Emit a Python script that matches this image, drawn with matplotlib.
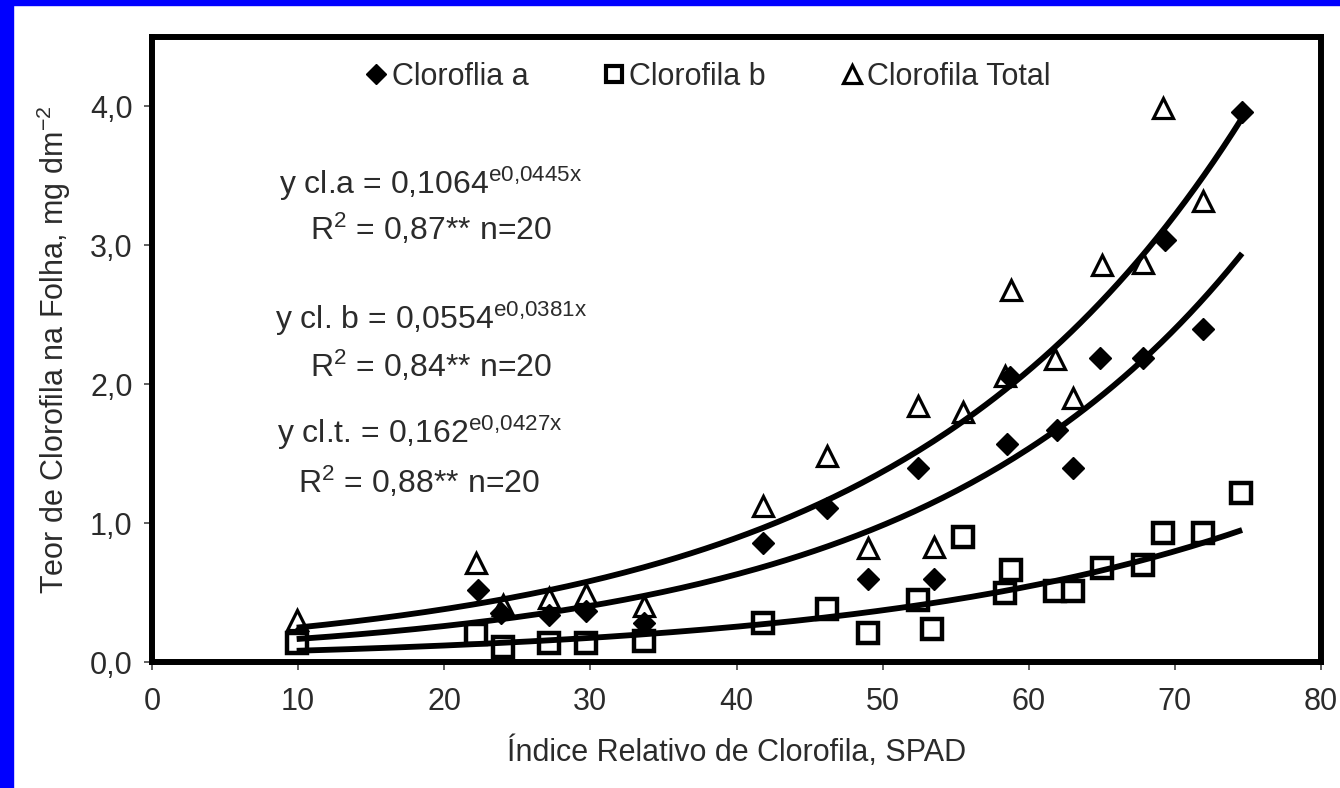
import numpy as np
import matplotlib
matplotlib.use('Agg')
import matplotlib.pyplot as plt
from matplotlib.ticker import FuncFormatter, MultipleLocator
from matplotlib.patches import Rectangle

plt.rcParams['font.family'] = ['Liberation Sans', 'DejaVu Sans']
plt.rcParams['mathtext.default'] = 'regular'

# leituras do grafico (SPAD x teor, mg dm-2)
spad_a = [9.9, 22.3, 23.9, 27.2, 29.7, 33.7, 41.8, 46.2, 49.0, 52.4,
          53.5, 58.5, 58.7, 61.9, 63.0, 64.9, 67.8, 69.3, 71.9, 74.6]
clor_a = [0.17, 0.52, 0.35, 0.34, 0.37, 0.28, 0.86, 1.11, 0.60, 1.40,
          0.60, 1.57, 2.05, 1.67, 1.40, 2.19, 2.19, 3.04, 2.40, 3.96]

spad_b = [9.9, 22.2, 24.0, 27.2, 29.7, 33.7, 41.8, 46.2, 49.0, 52.4,
          53.4, 55.5, 58.4, 58.8, 61.8, 63.0, 65.0, 67.8, 69.2, 71.9, 74.5]
clor_b = [0.14, 0.20, 0.11, 0.14, 0.14, 0.15, 0.28, 0.38, 0.21, 0.45,
          0.24, 0.90, 0.50, 0.66, 0.51, 0.51, 0.68, 0.70, 0.93, 0.93, 1.22]

spad_t = [9.9, 22.2, 24.0, 27.2, 29.7, 33.7, 41.8, 46.2, 49.0, 52.4,
          53.5, 55.5, 58.4, 58.8, 61.8, 63.0, 65.0, 67.8, 69.2, 71.9]
clor_t = [0.30, 0.71, 0.41, 0.46, 0.49, 0.40, 1.12, 1.48, 0.82, 1.84,
          0.83, 1.80, 2.06, 2.68, 2.18, 1.90, 2.86, 2.87, 3.99, 3.32]

# ajustes exponenciais y = a*exp(b*x)
fit_a = (0.1064, 0.0445)
fit_b = (0.0554, 0.0381)
fit_t = (0.162, 0.0427)

legend_labels = ['Cloroflia a', 'Clorofila b', 'Clorofila Total']
eq_lines = [
    ('y cl.a = 0,1064$^{e0{,}0445x}$', 'R$^2$ = 0,87** n=20'),
    ('y cl. b = 0,0554$^{e0{,}0381x}$', 'R$^2$ = 0,84** n=20'),
    ('y cl.t. = 0,162$^{e0{,}0427x}$', 'R$^2$ = 0,88** n=20'),
]

txt = '#2b2b2b'

fig = plt.figure(figsize=(13.4, 7.88), dpi=100)
fig.patch.set_facecolor('white')
fig.patches.append(Rectangle((0, 0), 13 / 1340, 1, transform=fig.transFigure,
                             color='#0000ff', zorder=0))
fig.patches.append(Rectangle((0, 1 - 5 / 788), 1, 5 / 788, transform=fig.transFigure,
                             color='#0000ff', zorder=0))

ax = fig.add_axes([152 / 1340, 1 - 662 / 788, (1321 - 152) / 1340, (662 - 37) / 788])

ax.plot(spad_a, clor_a, linestyle='none', marker='D', ms=11.5,
        mfc='black', mec='black', zorder=3)
ax.plot(spad_b, clor_b, linestyle='none', marker='s', ms=14.5,
        mfc='white', mec='black', mew=3.2, zorder=3)
ax.plot(spad_t, clor_t, linestyle='none', marker='^', ms=15,
        mfc='none', mec='black', mew=2.3, zorder=3)

# linhas de tendencia sobre toda a faixa de SPAD medida
x_all = spad_a + spad_b + spad_t
xx = np.linspace(min(x_all), max(x_all), 200)
for a, b in [fit_a, fit_b, fit_t]:
    ax.plot(xx, a * np.exp(b * xx), color='black', lw=4.2, zorder=4,
            solid_capstyle='butt')

ax.set_xlim(0, 80)
ax.set_ylim(0, 4.5)
ax.xaxis.set_major_locator(MultipleLocator(10))
ax.yaxis.set_major_locator(MultipleLocator(1))
ax.yaxis.set_major_formatter(FuncFormatter(lambda v, p: f'{v:.1f}'.replace('.', ',')))

for s in ax.spines.values():
    s.set_linewidth(4.3)
    s.set_color('black')
ax.tick_params(direction='out', length=6, width=1.2, color='#444444',
               labelsize=22, labelcolor=txt, pad=8)
ax.tick_params(axis='x', pad=12)

ax.set_xlabel('Índice Relativo de Clorofila, SPAD', fontsize=22, color=txt, labelpad=14)
ax.set_ylabel('Teor de Clorofila na Folha, mg dm$^{-2}$', fontsize=22, color=txt, labelpad=12)

eq_x = [(8.69, 10.81), (8.42, 10.81), (8.56, 9.99)]
eq_y = [(3.37, 3.04), (2.40, 2.05), (1.58, 1.22)]
for (l1, l2), (x1, x2), (y1, y2) in zip(eq_lines, eq_x, eq_y):
    ax.text(x1, y1, l1, fontsize=23, color=txt, ha='left', va='baseline')
    ax.text(x2, y2, l2, fontsize=23, color=txt, ha='left', va='baseline')

la, = ax.plot([], [], linestyle='none', marker='D', ms=10, mfc='black', mec='black')
lb, = ax.plot([], [], linestyle='none', marker='s', ms=12, mfc='white', mec='black', mew=3.0)
lt, = ax.plot([], [], linestyle='none', marker='^', ms=13, mfc='none', mec='black', mew=2.3)
leg = ax.legend([la, lb, lt], legend_labels, loc='center', bbox_to_anchor=(0.475, 0.936),
                ncol=3, frameon=False, fontsize=22, handlelength=0.8,
                handletextpad=0.1, columnspacing=2.4)
for t in leg.get_texts():
    t.set_color(txt)

fig.savefig('out.png', dpi=100)
